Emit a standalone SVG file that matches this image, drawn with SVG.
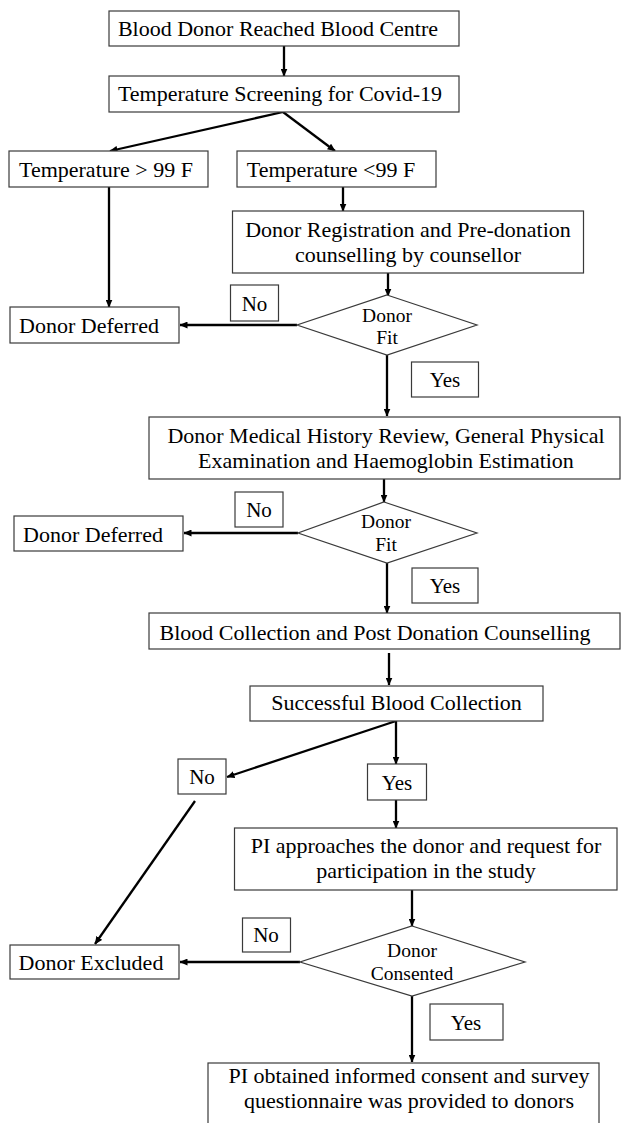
<svg xmlns="http://www.w3.org/2000/svg" width="621" height="1123" viewBox="0 0 621 1123">
<style>
.box{fill:#fff;stroke:#3a3a3a;stroke-width:1.2}
.t{font-family:"Liberation Serif","Times New Roman",serif;font-size:22px;fill:#000;text-anchor:middle}
.s{font-family:"Liberation Serif","Times New Roman",serif;font-size:19.5px;fill:#000;text-anchor:middle}
.l{font-family:"Liberation Serif","Times New Roman",serif;font-size:21px;fill:#000;text-anchor:middle}
.c{stroke:#000;stroke-width:2.3;fill:none;marker-end:url(#ah)}
</style>
<defs>
<marker id="ah" markerUnits="userSpaceOnUse" markerWidth="8" markerHeight="7" refX="7.5" refY="3.5" orient="auto">
<path d="M0,0 L8,3.5 L0,7 z" fill="#000"/>
</marker>
</defs>
<rect width="621" height="1123" fill="#fff"/>
<g id="connectors">
<line class="c" x1="284" y1="46" x2="284" y2="76"/>
<line class="c" x1="283" y1="112" x2="110" y2="151"/>
<line class="c" x1="283" y1="112" x2="335" y2="151"/>
<line class="c" x1="109" y1="187" x2="109" y2="307"/>
<line class="c" x1="343" y1="187" x2="343" y2="211"/>
<line class="c" x1="388" y1="273" x2="388" y2="296"/>
<line class="c" x1="297" y1="325" x2="180" y2="325"/>
<line class="c" x1="387" y1="355" x2="387" y2="416"/>
<line class="c" x1="384" y1="479" x2="384" y2="502"/>
<line class="c" x1="298" y1="533" x2="184" y2="533"/>
<line class="c" x1="387" y1="563" x2="387" y2="613"/>
<line class="c" x1="389" y1="653" x2="389" y2="685"/>
<line class="c" x1="396" y1="721" x2="227" y2="777"/>
<line class="c" x1="396" y1="721" x2="396" y2="764"/>
<line class="c" x1="396" y1="800" x2="396" y2="828"/>
<line class="c" x1="195" y1="801" x2="95" y2="944"/>
<line class="c" x1="412" y1="890" x2="412" y2="926"/>
<line class="c" x1="300" y1="962" x2="180" y2="962"/>
<line class="c" x1="412" y1="996" x2="412" y2="1062"/>
</g>
<g id="n1"><rect class="box" x="109" y="11" width="350" height="35"/><text class="t" x="278" y="36">Blood Donor Reached Blood Centre</text></g>
<g id="n2"><rect class="box" x="109" y="76" width="350" height="36"/><text class="t" x="280" y="101">Temperature Screening for Covid-19</text></g>
<g id="n3"><rect class="box" x="9" y="151" width="199" height="36"/><text class="t" x="106" y="177">Temperature &gt; 99 F</text></g>
<g id="n4"><rect class="box" x="237" y="151" width="199" height="36"/><text class="t" x="331" y="177">Temperature &lt;99 F</text></g>
<g id="n5"><rect class="box" x="232.5" y="211" width="351" height="62"/><text class="t" x="408" y="237">Donor Registration and Pre-donation</text><text class="t" x="408" y="262">counselling by counsellor</text></g>
<g id="d1"><polygon class="box" points="387,295 477,325 387,355 297,325"/><text class="s" x="387" y="322">Donor</text><text class="s" x="387" y="344">Fit</text></g>
<g id="no1"><rect class="box" x="230.5" y="285" width="48" height="36"/><text class="l" x="254.5" y="311">No</text></g>
<g id="dd1"><rect class="box" x="10" y="307" width="169" height="36"/><text class="t" x="89" y="333">Donor Deferred</text></g>
<g id="yes1"><rect class="box" x="411.5" y="362" width="67" height="35"/><text class="l" x="445" y="387">Yes</text></g>
<g id="n6"><rect class="box" x="149" y="417" width="471" height="62"/><text class="t" x="386" y="443">Donor Medical History Review, General Physical</text><text class="t" x="386" y="468">Examination and Haemoglobin Estimation</text></g>
<g id="d2"><polygon class="box" points="384,502 477,533 387,563 298,533"/><text class="s" x="386" y="528">Donor</text><text class="s" x="386" y="551">Fit</text></g>
<g id="no2"><rect class="box" x="235" y="492" width="48" height="35"/><text class="l" x="259" y="517">No</text></g>
<g id="dd2"><rect class="box" x="14" y="516" width="169" height="35"/><text class="t" x="93" y="542">Donor Deferred</text></g>
<g id="yes2"><rect class="box" x="412" y="568" width="66" height="35"/><text class="l" x="445" y="593">Yes</text></g>
<g id="n7"><rect class="box" x="149" y="613" width="471" height="36"/><text class="t" x="375" y="640">Blood Collection and Post Donation Counselling</text></g>
<g id="n8"><rect class="box" x="250" y="686" width="293" height="35"/><text class="t" x="396.5" y="710">Successful Blood Collection</text></g>
<g id="no3"><rect class="box" x="178" y="759" width="48" height="35"/><text class="l" x="202" y="784">No</text></g>
<g id="yes3"><rect class="box" x="367.5" y="764" width="59" height="36"/><text class="l" x="397" y="790">Yes</text></g>
<g id="n9"><rect class="box" x="234.5" y="828" width="382.5" height="62"/><text class="t" x="426" y="853">PI approaches the donor and request for</text><text class="t" x="426" y="878">participation in the study</text></g>
<g id="d3"><polygon class="box" points="412,926 525,962 412,996 300,962"/><text class="s" x="412" y="957">Donor</text><text class="s" x="412" y="980">Consented</text></g>
<g id="no4"><rect class="box" x="242.5" y="918" width="48" height="34"/><text class="l" x="266" y="942">No</text></g>
<g id="de"><rect class="box" x="10" y="945" width="169" height="34"/><text class="t" x="91" y="970">Donor Excluded</text></g>
<g id="yes4"><rect class="box" x="430" y="1004" width="73" height="36"/><text class="l" x="466" y="1030">Yes</text></g>
<g id="n10"><rect class="box" x="208" y="1063" width="391" height="80"/><text class="t" x="409" y="1083">PI obtained informed consent and survey</text><text class="t" x="409" y="1108">questionnaire was provided to donors</text></g>
</svg>
